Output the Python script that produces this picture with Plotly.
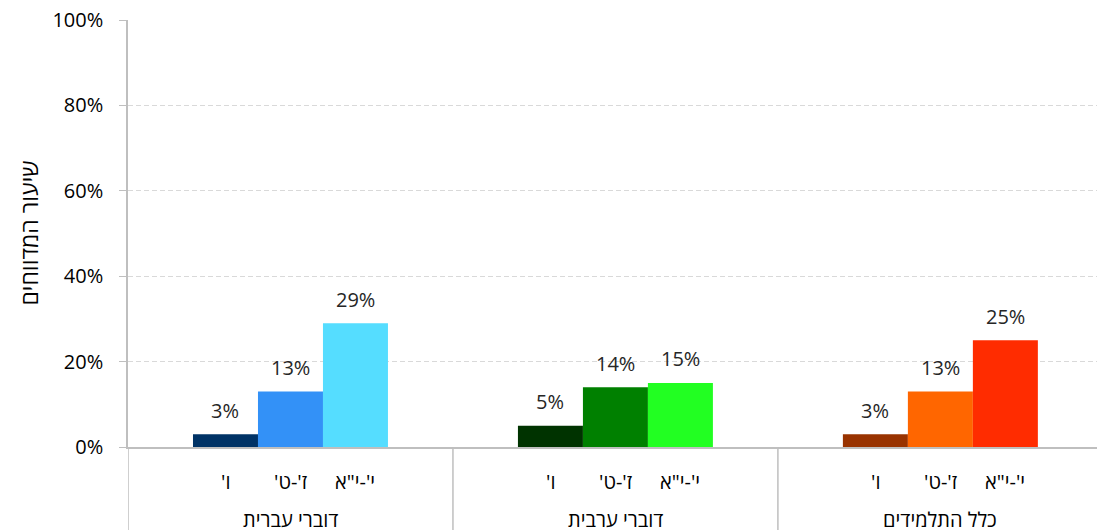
import plotly.graph_objects as go

groups = ["דוברי עברית", "דוברי ערבית", "כלל התלמידים"]
grades = ["ו'", "ז'-ט'", "י'-י\"א"]
values = {
    "ו'": [0.03, 0.05, 0.03],
    "ז'-ט'": [0.13, 0.14, 0.13],
    "י'-י\"א": [0.29, 0.15, 0.25],
}
colors = {
    "ו'": ["#003366", "#003300", "#993300"],
    "ז'-ט'": ["#3391F7", "#008000", "#FF6600"],
    "י'-י\"א": ["#55DDFF", "#22FF22", "#FF2C00"],
}
y_title = "שיעור המדווחים"
y_ticks = [0, 0.2, 0.4, 0.6, 0.8, 1.0]

FONT = "Open Sans, Liberation Sans, DejaVu Sans, sans-serif"
RLM = "\u200f"


def rtl(s):
    return RLM + s + RLM


fig = go.Figure()
for g in grades:
    fig.add_trace(go.Bar(
        x=groups, y=values[g], name=g,
        marker=dict(color=colors[g], line=dict(width=0)),
        hoverinfo="x+y",
    ))

annotations = []
n = len(grades)
for i, grp in enumerate(groups):
    for j, g in enumerate(grades):
        xpos = i + (j - (n - 1) / 2) * 0.2
        annotations.append(dict(
            x=xpos, y=0, xref="x", yref="paper",
            yshift=-34, yanchor="middle", text=rtl(g), showarrow=False,
            font=dict(size=20, color="#000000", family=FONT),
        ))
        v = values[g][i]
        annotations.append(dict(
            x=xpos, y=v, xref="x", yref="y", yshift=24, yanchor="middle",
            text=f"{round(v * 100)}%", showarrow=False,
            font=dict(size=20, color="#262626", family=FONT),
        ))
    annotations.append(dict(
        x=i, y=0, xref="x", yref="paper", yshift=-72, yanchor="middle",
        text=rtl(grp), showarrow=False,
        font=dict(size=20, color="#000000", family=FONT),
    ))
annotations.append(dict(
    x=0, y=0.5, xref="paper", yref="paper", xshift=-100, textangle=-90,
    text=rtl(y_title), showarrow=False, xanchor="center", yanchor="middle",
    font=dict(size=23, color="#000000", family=FONT),
))

shapes = []
for xs in [-0.5, 0.5, 1.5, 2.5]:
    shapes.append(dict(type="line", xref="x", yref="paper", x0=xs, x1=xs,
                       y0=0, y1=-0.2, line=dict(color="#BFBFBF", width=1.5)))

fig.update_layout(
    width=1097, height=530,
    margin=dict(l=128, r=0, t=20, b=83),
    paper_bgcolor="white", plot_bgcolor="white",
    barmode="group", bargap=0.4, bargroupgap=0,
    showlegend=False,
    font=dict(family=FONT, size=20, color="#000000"),
    annotations=annotations, shapes=shapes,
    xaxis=dict(showticklabels=False, range=[-0.5, 2.482], showline=True,
               linecolor="#BFBFBF", linewidth=1.5, ticks="", showgrid=False,
               zeroline=False, fixedrange=True),
    yaxis=dict(range=[0, 1], tickvals=y_ticks, tickformat=".0%",
               showgrid=True, gridcolor="#D9D9D9", griddash="5px,3px", gridwidth=1,
               showline=True, linecolor="#BFBFBF", linewidth=1.5,
               ticks="outside", ticklen=7, tickcolor="#BFBFBF",
               ticklabelstandoff=12,
               tickfont=dict(size=20, color="#000000", family=FONT),
               zeroline=False, fixedrange=True),
)

fig.write_html(
    "out.html",
    config={"displayModeBar": False},
    post_script="document.body.style.margin='0';document.body.style.overflow='hidden';",
)
